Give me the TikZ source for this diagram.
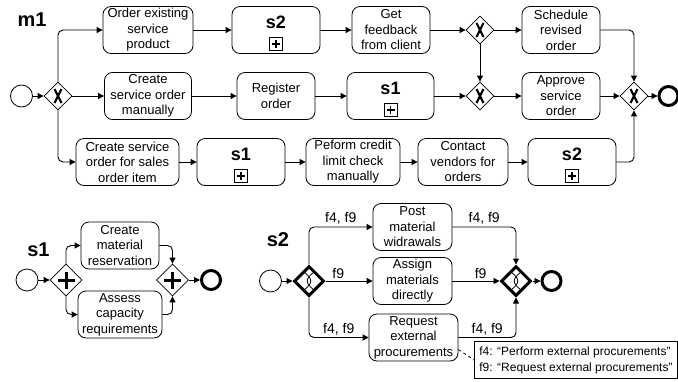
\documentclass[tikz,border=0pt]{standalone}
\usepackage{fontspec}
\setmainfont{Liberation Sans}
\usetikzlibrary{arrows.meta,shapes.geometric}

\begin{document}
\begin{tikzpicture}[x=1pt,y=-1pt,
    font=\fontsize{13}{15.5}\selectfont,
    task/.style={draw,line width=0.8pt,rounded corners=8pt,minimum height=47pt,align=center,inner xsep=2pt,inner ysep=1.5pt},
    subproc/.style={task,font=\fontsize{18}{18}\selectfont\bfseries,text height=13pt,text depth=16pt,
      path picture={
        \draw[sharp corners,line width=0.8pt] ([shift={(-6.5pt,3pt)}]path picture bounding box.south) rectangle ++(13pt,13pt);
        \draw[sharp corners,line width=1.4pt] ([shift={(-4pt,9.5pt)}]path picture bounding box.south) -- ++(8pt,0pt);
        \draw[sharp corners,line width=1.4pt] ([shift={(0pt,5.5pt)}]path picture bounding box.south) -- ++(0pt,8pt);}},
    gate/.style={draw,diamond,aspect=1,minimum size=28pt,inner sep=0pt,line width=0.8pt},
    pgate/.style={gate,minimum size=32pt},
    cgate/.style={gate,minimum size=30pt,line width=3pt},
    start/.style={draw,circle,minimum size=22pt,inner sep=0pt,line width=0.8pt},
    stop/.style={draw,circle,minimum size=19pt,inner sep=0pt,line width=3pt},
    flow/.style={line width=0.9pt,-{Triangle[length=6pt,width=6pt]},rounded corners=5pt},
    cond/.style={above,inner sep=2pt,font=\fontsize{14}{14}\selectfont},
    title/.style={font=\fontsize{20}{20}\selectfont\bfseries},
    note/.style={draw,line width=0.8pt,align=left,inner sep=5pt,font=\fontsize{12}{16}\selectfont}]
  \useasboundingbox (0,0) rectangle (678,381);

  % m1
  \node[title] (m1) at (32,20) {m1};
  \node[start] (st1) at (21.5,96) {};
  \node[gate] (gw1) at (58,96) {};
  \node[task,minimum width=90pt] (order) at (148,30) {Order existing\\service\\product};
  \node[subproc,minimum width=88pt] (s2a) at (276,30) {s2};
  \node[task,minimum width=78pt] (feedback) at (391,30) {Get\\feedback\\from client};
  \node[gate] (gwt) at (480,30) {};
  \node[task,minimum width=78pt] (sched) at (561,30) {Schedule\\revised\\order};
  \node[task,minimum width=87pt] (manual) at (148,96) {Create\\service order\\manually};
  \node[task,minimum width=78pt] (register) at (276,96) {Register\\order};
  \node[subproc,minimum width=87pt] (s1a) at (390.5,96) {s1};
  \node[gate] (gwm) at (480,96) {};
  \node[task,minimum width=78pt] (approve) at (561,96) {Approve\\service\\order};
  \node[gate] (gwe) at (634,96) {};
  \node[stop] (endm) at (668.5,96) {};
  \node[task,minimum width=103pt] (sales) at (127.5,162) {Create service\\order for sales\\order item};
  \node[subproc,minimum width=88pt] (s1b) at (241,162) {s1};
  \node[task,minimum width=94pt] (credit) at (353,162) {Peform credit\\limit check\\manually};
  \node[task,minimum width=90pt] (contact) at (463,162) {Contact\\vendors for\\orders};
  \node[subproc,minimum width=88pt] (s2b) at (572,162) {s2};

  \draw[flow] (st1) -- (gw1);
  \draw[flow] (gw1.north) |- (order.west);
  \draw[flow] (gw1) -- (manual);
  \draw[flow] (gw1.south) |- (sales.west);
  \draw[flow] (order) -- (s2a);
  \draw[flow] (s2a) -- (feedback);
  \draw[flow] (feedback) -- (gwt);
  \draw[flow] (gwt) -- (sched);
  \draw[flow] (gwt) -- (gwm);
  \draw[flow] (manual) -- (register);
  \draw[flow] (register) -- (s1a);
  \draw[flow] (s1a) -- (gwm);
  \draw[flow] (gwm) -- (approve);
  \draw[flow] (approve) -- (gwe);
  \draw[flow] (sched.east) -| (gwe.north);
  \draw[flow] (sales) -- (s1b);
  \draw[flow] (s1b) -- (credit);
  \draw[flow] (credit) -- (contact);
  \draw[flow] (contact) -- (s2b);
  \draw[flow] (s2b.east) -| (gwe.south);
  \draw[flow] (gwe) -- (endm);

  % s1
  \node[title] (s1) at (38.5,250) {s1};
  \node[start] (st2) at (27,280) {};
  \node[pgate] (gwa) at (66,280) {};
  \node[task,minimum width=78pt] (resv) at (120,245.5) {Create\\material\\reservation};
  \node[task,minimum width=84pt] (assess) at (120,314.5) {Assess\\capacity\\requirements};
  \node[pgate] (gwb) at (172.5,280) {};
  \node[stop] (end2) at (211,280) {};

  \draw[flow] (st2) -- (gwa);
  \draw[flow] (gwa.north) |- (resv.west);
  \draw[flow] (gwa.south) |- (assess.west);
  \draw[flow] (resv.east) -| (gwb.north);
  \draw[flow] (assess.east) -| (gwb.south);
  \draw[flow] (gwb) -- (end2);

  % s2
  \node[title] (s2) at (278,240) {s2};
  \node[start] (st3) at (270.5,281) {};
  \node[cgate] (gwc) at (309,281) {};
  \node[task,minimum width=79pt] (post) at (412.5,227) {Post\\material\\widrawals};
  \node[task,minimum width=79pt] (assign) at (412.5,281) {Assign\\materials\\directly};
  \node[task,minimum width=89pt] (request) at (413.5,337.5) {Request\\external\\procurements};
  \node[cgate] (gwd) at (516,281) {};
  \node[stop] (end3) at (551.5,281) {};
  \node[note,anchor=north west] (fnote) at (474,341) {f4: “Perform external procurements”\\f9: “Request external procurements”};

  \draw[flow] (st3) -- (gwc);
  \draw[flow] (gwc.north) |- (post.west) node[cond,pos=0.75] {f4, f9};
  \draw[flow] (gwc) -- (assign) node[cond,pos=0.27] {f9};
  \draw[flow] (gwc.south) |- (request.west) node[cond,pos=0.75] {f4, f9};
  \draw[flow] (post.east) -| (gwd.north) node[cond,pos=0.25] {f4, f9};
  \draw[flow] (assign) -- (gwd) node[cond,pos=0.6] {f9};
  \draw[flow] (request.east) -| (gwd.south) node[cond,pos=0.25] {f4, f9};
  \draw[flow] (gwd) -- (end3);
  \draw[dashed,line width=0.8pt] ([yshift=-12pt]request.east) -- (fnote.west);

  % gateway markers
  \foreach \g in {gw1,gwt,gwm,gwe}
    \draw[line width=2.2pt] ([shift={(-3.5pt,-7pt)}]\g.center) -- ([shift={(3.5pt,7pt)}]\g.center)
      ([shift={(-3.5pt,7pt)}]\g.center) -- ([shift={(3.5pt,-7pt)}]\g.center);
  \foreach \g in {gwa,gwb}
    \draw[line width=3pt] ([xshift=-8.5pt]\g.center) -- ([xshift=8.5pt]\g.center)
      ([yshift=-8.5pt]\g.center) -- ([yshift=8.5pt]\g.center);
  \foreach \g in {gwc,gwd}
    \draw[line width=0.8pt] ([shift={(-5pt,9pt)}]\g.center) .. controls ([shift={(4pt,2pt)}]\g.center) and ([shift={(4pt,-2pt)}]\g.center) .. ([shift={(-5pt,-9pt)}]\g.center)
      ([shift={(5pt,9pt)}]\g.center) .. controls ([shift={(-4pt,2pt)}]\g.center) and ([shift={(-4pt,-2pt)}]\g.center) .. ([shift={(5pt,-9pt)}]\g.center);
\end{tikzpicture}
\end{document}
